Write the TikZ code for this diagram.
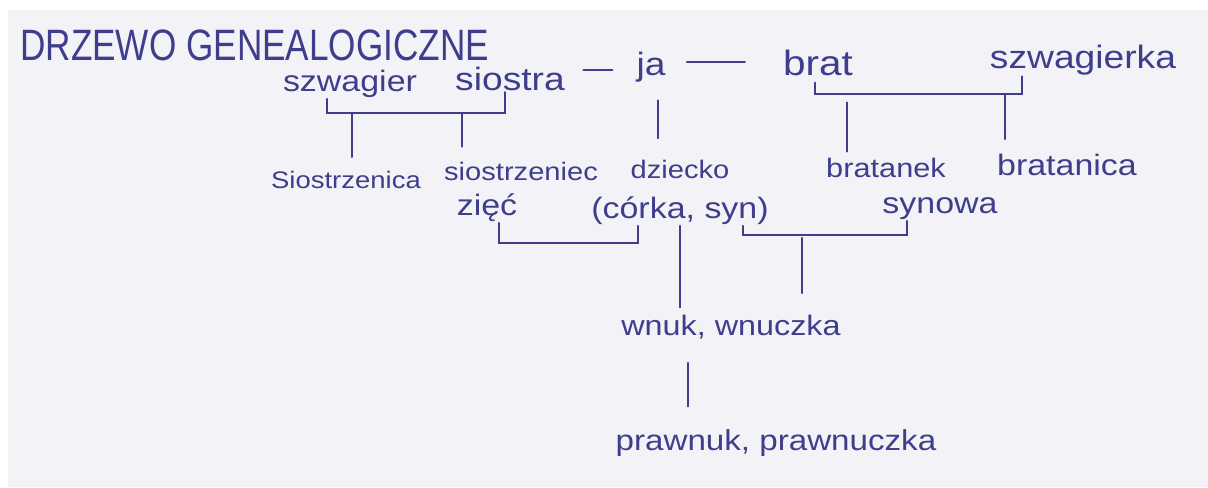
\documentclass[tikz,border=0pt]{standalone}
\usepackage{fontspec}
\setmainfont{Liberation Sans}[FakeStretch=1.15]
\newfontfamily\titlefont{Liberation Sans}
\definecolor{ink}{RGB}{62,62,140}
\definecolor{paper}{RGB}{243,243,247}
\begin{document}
\begin{tikzpicture}[x=0.025cm,y=-0.025cm,every node/.append style={text=ink,inner sep=1pt},
                    word/.style={anchor=base,font=\fontsize{#1}{#1}\selectfont},
                    pen/.style={draw=ink,line width=1.3pt,line cap=round}]
    \useasboundingbox (0,0) rectangle (1208,487);
    \fill[white] (0,0) rectangle (1208,487);
    \fill[paper] (8,10) rectangle (1208,487);
    \node[anchor=base west,inner sep=0pt,font=\titlefont\fontsize{25}{25}\selectfont] (title) at (20,60)
        {\scalebox{1}[1.25]{DRZEWO GENEALOGICZNE}};
    \node[word=21pt] (szwagier) at (350,91) {szwagier};
    \node[word=23pt] (siostra) at (510,90) {siostra};
    \node[word=23pt] (ja) at (651,75) {ja};
    \node[word=25pt] (brat) at (818,75) {brat};
    \node[word=23pt] (szwagierka) at (1083,68) {szwagierka};
    \node[word=17pt] (siostrzenica) at (346,188) {Siostrzenica};
    \node[word=18pt] (siostrzeniec) at (521,180) {siostrzeniec};
    \node[word=18pt] (dziecko) at (680,178) {dziecko};
    \node[word=19pt] (bratanek) at (886,177) {bratanek};
    \node[word=21pt] (bratanica) at (1067,175) {bratanica};
    \node[word=21pt] (ziec) at (487,215) {zięć};
    \node[word=21pt] (corka) at (680,218) {(córka, syn)};
    \node[word=21pt] (synowa) at (940,213) {synowa};
    \node[word=20pt] (wnuk) at (731,335) {wnuk, wnuczka};
    \node[word=20.5pt] (prawnuk) at (776,450) {prawnuk, prawnuczka};
    \coordinate (barA) at (416,113);
    \coordinate (barB) at (918,94);
    \coordinate (barC) at (568,243);
    \coordinate (barD) at (825,235);
    \draw[pen,shorten <=12pt,shorten >=16pt] (siostra.east |- 0,70) -- (ja.west |- 0,70);
    \draw[pen,shorten <=14pt,shorten >=26pt] (ja.east |- 0,62) -- (brat.west |- 0,62);
    \draw[pen] (szwagier.south -| 327,0) |- (barA) -| (siostra.south -| 505,0);
    \draw[pen,shorten >=8.5pt] (barA -| 352,0) -- (siostrzenica.north -| 352,0);
    \draw[pen,shorten >=9.5pt] (barA -| 462,0) -- (siostrzeniec.north -| 462,0);
    \draw[pen,shorten <=12pt,shorten >=14pt] (ja.south -| 658,0) -- (dziecko.north -| 658,0);
    \draw[pen,shorten <=4pt] (brat.south -| 815,0) |- (barB) -| (szwagierka.south -| 1022,0);
    \draw[pen,shorten <=6pt,shorten >=3pt] (barB -| 847,0) -- (bratanek.north -| 847,0);
    \draw[pen,shorten >=9pt] (barB -| 1005,0) -- (bratanica.north -| 1005,0);
    \draw[pen] (ziec.south -| 499,0) |- (barC) -| (corka.south -| 638,0);
    \draw[pen,shorten >=4pt] (corka.south -| 680,0) -- (wnuk.north -| 680,0);
    \draw[pen] (corka.south -| 743,0) |- (barD) -| (synowa.south -| 907,0);
    \draw[pen,shorten <=2pt,shorten >=14pt] (barD -| 802,0) -- (wnuk.north -| 802,0);
    \draw[pen,shorten <=16pt,shorten >=15pt] (wnuk.south -| 688,0) -- (prawnuk.north -| 688,0);
\end{tikzpicture}
\end{document}
